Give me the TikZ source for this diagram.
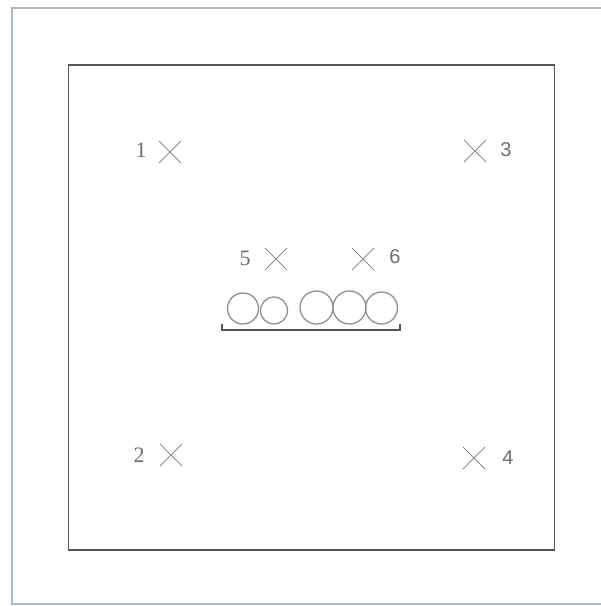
\documentclass[tikz,border=0pt]{standalone}
\usepackage{fontspec}
\setmainfont{Liberation Serif}
\newfontfamily\numsans{Liberation Sans}
\usetikzlibrary{calc}
\begin{document}
\begin{tikzpicture}[x=1pt,y=-1pt,
  outerframe/.style={draw=frameblue,line width=1.6pt},
  innerbox/.style={draw=boxgray,line width=1.4pt},
  crossmark/.style={draw=crossgray,line width=1pt},
  circ/.style={draw=circgray,line width=1.3pt},
  lbl/.style={text=labelgray,font=\fontsize{22}{22}\selectfont,inner sep=0pt},
  lbls/.style={text=labelgray,font=\numsans\fontsize{20}{20}\selectfont,inner sep=0pt}]
\definecolor{frameblue}{HTML}{AEB8C0}
\definecolor{boxgray}{HTML}{50565C}
\definecolor{crossgray}{HTML}{8A8A8A}
\definecolor{circgray}{HTML}{8C9094}
\definecolor{labelgray}{HTML}{6E6E6E}
\useasboundingbox (0,0) rectangle (601,606);
% outer frame
\coordinate (otr) at (601,8);
\coordinate (otl) at (12,8);
\coordinate (obl) at (12,604);
\coordinate (obr) at (601,604);
\draw[outerframe] (otr) -- (otl) -- (obl) -- (obr);
% inner box
\node[innerbox,minimum width=486pt,minimum height=485pt,inner sep=0pt,outer sep=0pt] (box) at (311.5,307.5) {};
% crosses
\foreach \n/\cx/\cy in {c1/170/152, c2/171/455, c3/475/151, c4/474/458, c5/276/259, c6/363/259}{
  \coordinate (\n) at (\cx,\cy);
  \draw[crossmark] ($(\n)+(-11,-11)$) -- ($(\n)+(11,11)$) ($(\n)+(-11,11)$) -- ($(\n)+(11,-11)$);
}
% labels
\node[lbl] (l1) at (141,150) {1};
\node[lbl] (l2) at (139,455) {2};
\node[lbls] (l3) at (506,150) {3};
\node[lbls] (l4) at (508,458) {4};
\node[lbl] (l5) at (245,258) {5};
\node[lbls] (l6) at (395,257) {6};
% circles
\node[circ,circle,minimum size=31pt,inner sep=0pt] (k1) at (243,308.5) {};
\node[circ,circle,minimum size=27pt,inner sep=0pt] (k2) at (274,310.5) {};
\node[circ,circle,minimum size=33pt,inner sep=0pt] (k3) at (316.5,307.5) {};
\node[circ,circle,minimum size=33pt,inner sep=0pt] (k4) at (349.5,307.5) {};
\node[circ,circle,minimum size=32pt,inner sep=0pt] (k5) at (381.5,308) {};
% bracket
\coordinate (bl) at (222,324);
\coordinate (br) at (400,324);
\draw[draw=boxgray,line width=1.1pt] (bl) -- ++(0,6) -- ($(br)+(0,6)$) -- (br);
\end{tikzpicture}
\end{document}
